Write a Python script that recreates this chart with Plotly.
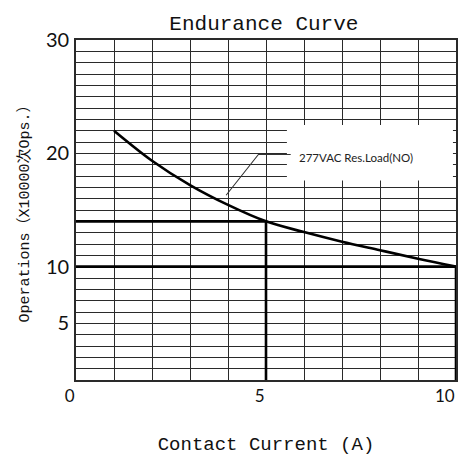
import plotly.graph_objects as go

# ---- data ----
current_a = [1, 2, 3, 4, 5, 6, 7, 8, 9, 10]
operations_x1e4 = [22, 19.35, 17.2, 15.45, 14, 13.05, 12.2, 11.45, 10.7, 10]

# rated points marked with heavy guide lines
rated_current = [5, 10]
rated_ops = [14, 10]

series_label = "277VAC Res.Load(NO)"
leader_x = [3.95, 4.8, 5.65]
leader_y = [16.3, 19.9, 19.9]

x_tickvals = [0, 5, 10]
x_ticktext = ["0", "5", "10"]
y_tickvals = [5, 10, 20, 30]
y_ticktext = ["5", "10", "20", "30"]

title_text = "Endurance Curve"
x_title = "Contact Current (A)"
y_title = "Operations（X10000次Ops.）"

GRID = "#2a2a2a"
MONO = "Liberation Mono, Noto Sans CJK SC, monospace"
SANS = "Lato, Open Sans, sans-serif"

fig = go.Figure()

# heavy guide lines for rated points
for cx, oy in zip(rated_current, rated_ops):
    fig.add_trace(go.Scatter(
        x=[0, cx, cx], y=[oy, oy, 0], mode="lines",
        line=dict(color="#000000", width=2.6), hoverinfo="skip", showlegend=False))

# endurance curve
fig.add_trace(go.Scatter(
    x=current_a, y=operations_x1e4, mode="lines",
    line=dict(color="#000000", width=2.6, shape="spline", smoothing=1.0),
    showlegend=False))

# leader line
fig.add_trace(go.Scatter(
    x=leader_x, y=leader_y, mode="lines",
    line=dict(color="#333333", width=1.1), hoverinfo="skip", showlegend=False))

# white label box covering grid
fig.add_shape(type="rect", xref="x", yref="y", x0=5.55, x1=9.92, y0=17.6, y1=22.5,
              fillcolor="white", line=dict(width=0), layer="between")

fig.add_annotation(x=leader_x[-1], y=leader_y[-1] - 0.3, xref="x", yref="y",
                   text=series_label, showarrow=False, xanchor="left", yanchor="middle",
                   xshift=6, font=dict(family=SANS, size=11.5, color="#222222"))

fig.update_layout(
    width=465, height=466,
    margin=dict(l=76, r=9, t=40, b=86),
    paper_bgcolor="white", plot_bgcolor="white",
    title=dict(text=title_text, x=0.5675, xanchor="center", y=1 - 23 / 466, yanchor="middle",
               yref="container", font=dict(family=MONO, size=21, color="#111111")),
)

fig.update_xaxes(
    range=[0, 10], tickmode="array", tickvals=x_tickvals, ticktext=x_ticktext,
    ticks="outside", ticklen=8, tickcolor="rgba(0,0,0,0)",
    ticklabelposition="outside left", ticklabeloverflow="allow",
    tickfont=dict(family=SANS, size=17, color="#111111"),
    showgrid=True, gridcolor=GRID, gridwidth=1.2,
    minor=dict(dtick=1, tick0=0, showgrid=True, gridcolor=GRID, gridwidth=1.2, ticks=""),
    showline=True, mirror=True, linecolor=GRID, linewidth=1.6,
    zeroline=False, automargin=False,
    title=dict(text=x_title, standoff=31, font=dict(family=MONO, size=19, color="#111111")),
)
fig.update_yaxes(
    range=[0, 30], tickmode="array", tickvals=y_tickvals, ticktext=y_ticktext,
    ticks="outside", ticklen=1, tickcolor="rgba(0,0,0,0)", ticklabeloverflow="allow",
    tickfont=dict(family=SANS, size=20, color="#111111"),
    showgrid=True, gridcolor=GRID, gridwidth=1.2,
    minor=dict(dtick=1, tick0=0, showgrid=True, gridcolor=GRID, gridwidth=1.2, ticks=""),
    showline=True, mirror=True, linecolor=GRID, linewidth=1.6,
    zeroline=False, automargin=False,
    title=dict(text=y_title, standoff=13, font=dict(family=MONO, size=15, color="#111111")),
)

fig.write_html("out.html", config={"displayModeBar": False},
               post_script="document.body.style.margin='0';")
